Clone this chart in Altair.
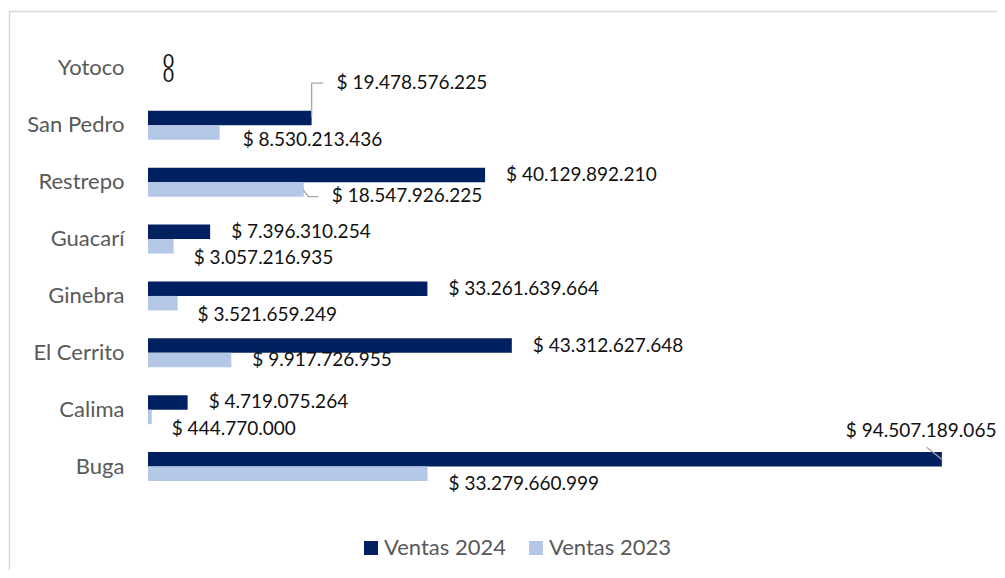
import altair as alt
import pandas as pd

# ---- data ----
municipios = ["Yotoco", "San Pedro", "Restrepo", "Guacarí", "Ginebra", "El Cerrito", "Calima", "Buga"]
ventas_2024 = [0, 19478576225, 40129892210, 7396310254, 33261639664, 43312627648, 4719075264, 94507189065]
ventas_2023 = [0, 8530213436, 18547926225, 3057216935, 3521659249, 9917726955, 444770000, 33279660999]
series = ["Ventas 2024", "Ventas 2023"]
x_ticks = [0, 20e9, 40e9, 60e9, 80e9, 100e9]

# ---- layout / style ----
W, H = 840, 455
XMAX = 100e9
STEP = H / len(municipios)
FONT = "Lato"
C24, C23 = "#002060", "#B4C7E7"

rows = []
for m, a, b in zip(municipios, ventas_2024, ventas_2023):
    rows.append({"Municipio": m, "Serie": series[0], "Valor": a})
    rows.append({"Municipio": m, "Serie": series[1], "Valor": b})
df = pd.DataFrame(rows)


def fmt(v):
    if v == 0:
        return "0"
    return "$ " + f"{v:,.0f}".replace(",", ".")


df["Etiqueta"] = df["Valor"].map(fmt)

# hand-placed label nudges (pixels from bar end / bar centre), like the original
nudge = {
    ("Yotoco", "Ventas 2024"): (15, 0.5),
    ("Yotoco", "Ventas 2023"): (15, 0),
    ("San Pedro", "Ventas 2024"): (25, -35),
    ("San Pedro", "Ventas 2023"): (23, 7),
    ("Restrepo", "Ventas 2023"): (28, 7),
    ("Guacarí", "Ventas 2023"): (20, 12),
    ("Ginebra", "Ventas 2023"): (20, 12),
    ("Calima", "Ventas 2023"): (20, 12),
    ("Buga", "Ventas 2024"): (-96, -28),
    ("Buga", "Ventas 2023"): (21, 10),
}
df["dx"] = [nudge.get((m, s), (21, 0))[0] for m, s in zip(df["Municipio"], df["Serie"])]
df["dy"] = [nudge.get((m, s), (21, 0))[1] for m, s in zip(df["Municipio"], df["Serie"])]

# leader lines (pixel offsets from bar end / bar centre)
leaders = {
    ("San Pedro", "Ventas 2024"): [(0, -1), (0, -35), (11.5, -35)],
    ("Restrepo", "Ventas 2023"): [(-1, 0), (4.5, 7.2), (14.5, 7.2)],
    ("Buga", "Ventas 2024"): [(-15.2, -12.1), (0.8, 0.6)],
}
lrows = []
for k, (key, pts) in enumerate(leaders.items()):
    m, s = key
    i = municipios.index(m)
    v = (ventas_2024 if s == series[0] else ventas_2023)[i]
    sub = -0.1275 if s == series[0] else 0.1275
    for j, (px, py) in enumerate(pts):
        lrows.append({
            "seg": k, "ord": j,
            "lx": v + px * XMAX / W,
            "ly": i + 0.5 + sub + py / STEP,
        })
ldf = pd.DataFrame(lrows)

xscale = alt.Scale(domain=[0, XMAX], nice=False, zero=True)
xenc = alt.X(
    "Valor:Q", scale=xscale,
    axis=alt.Axis(values=x_ticks, labels=False, ticks=False, domain=False, title=None,
                  grid=True, gridColor="#D9D9D9", gridWidth=1.5),
)
yscale = alt.Scale(paddingInner=0.49, paddingOuter=0.245)
yenc = alt.Y(
    "Municipio:N", sort=municipios, scale=yscale,
    axis=alt.Axis(title=None, ticks=False, domain=False, labelPadding=24,
                  labelFont=FONT, labelFontSize=22, labelColor="#595959"),
)
yenc_lab = alt.Y("Municipio:N", sort=municipios, scale=yscale, axis=None)
yoff = alt.YOffset("Serie:N", sort=series, scale=alt.Scale(paddingInner=0, paddingOuter=0))

bars = alt.Chart(df).mark_bar().encode(
    x=xenc, y=yenc, yOffset=yoff,
    color=alt.Color(
        "Serie:N", sort=series,
        scale=alt.Scale(domain=series, range=[C24, C23]),
        legend=alt.Legend(
            title=None, orient="none", direction="horizontal",
            legendX=212, legendY=497, symbolType="square", symbolSize=196,
            symbolStrokeWidth=0, labelFont=FONT, labelFontSize=22, labelColor="#595959",
            labelOffset=2, columnPadding=18,
        ),
    ),
)

labels = alt.Chart(df).mark_text(
    align="left", baseline="middle", font=FONT, fontSize=19, color="#111111",
    dx=alt.expr("datum.dx"), dy=alt.expr("datum.dy"),
).encode(x=alt.X("Valor:Q", scale=xscale, axis=None), y=yenc_lab, yOffset=yoff, text="Etiqueta:N")

lead = alt.Chart(ldf).mark_line(color="#A6A6A6", strokeWidth=1.3).encode(
    x=alt.X("lx:Q", scale=xscale, axis=None),
    y=alt.Y("ly:Q", scale=alt.Scale(domain=[len(municipios), 0], nice=False, zero=False), axis=None),
    detail="seg:N", order="ord:Q",
)

frame = alt.Chart(alt.Data(values=[{}])).mark_rect(
    fill=None, stroke="#D9D9D9", strokeWidth=1.5
).encode(
    x=alt.value(-138.5), x2=alt.value(900), y=alt.value(-28.5), y2=alt.value(600)
)

chart = (
    alt.layer(frame, bars, labels, lead)
    .resolve_scale(y="independent")
    .properties(
        width=W, height=H,
        autosize=alt.AutoSizeParams(type="none"),
        padding={"left": 140, "top": 32, "right": 9, "bottom": 75},
    )
    .configure_view(stroke=None)
)

chart.save("out.html", embed_options={"renderer": "svg", "actions": False})
